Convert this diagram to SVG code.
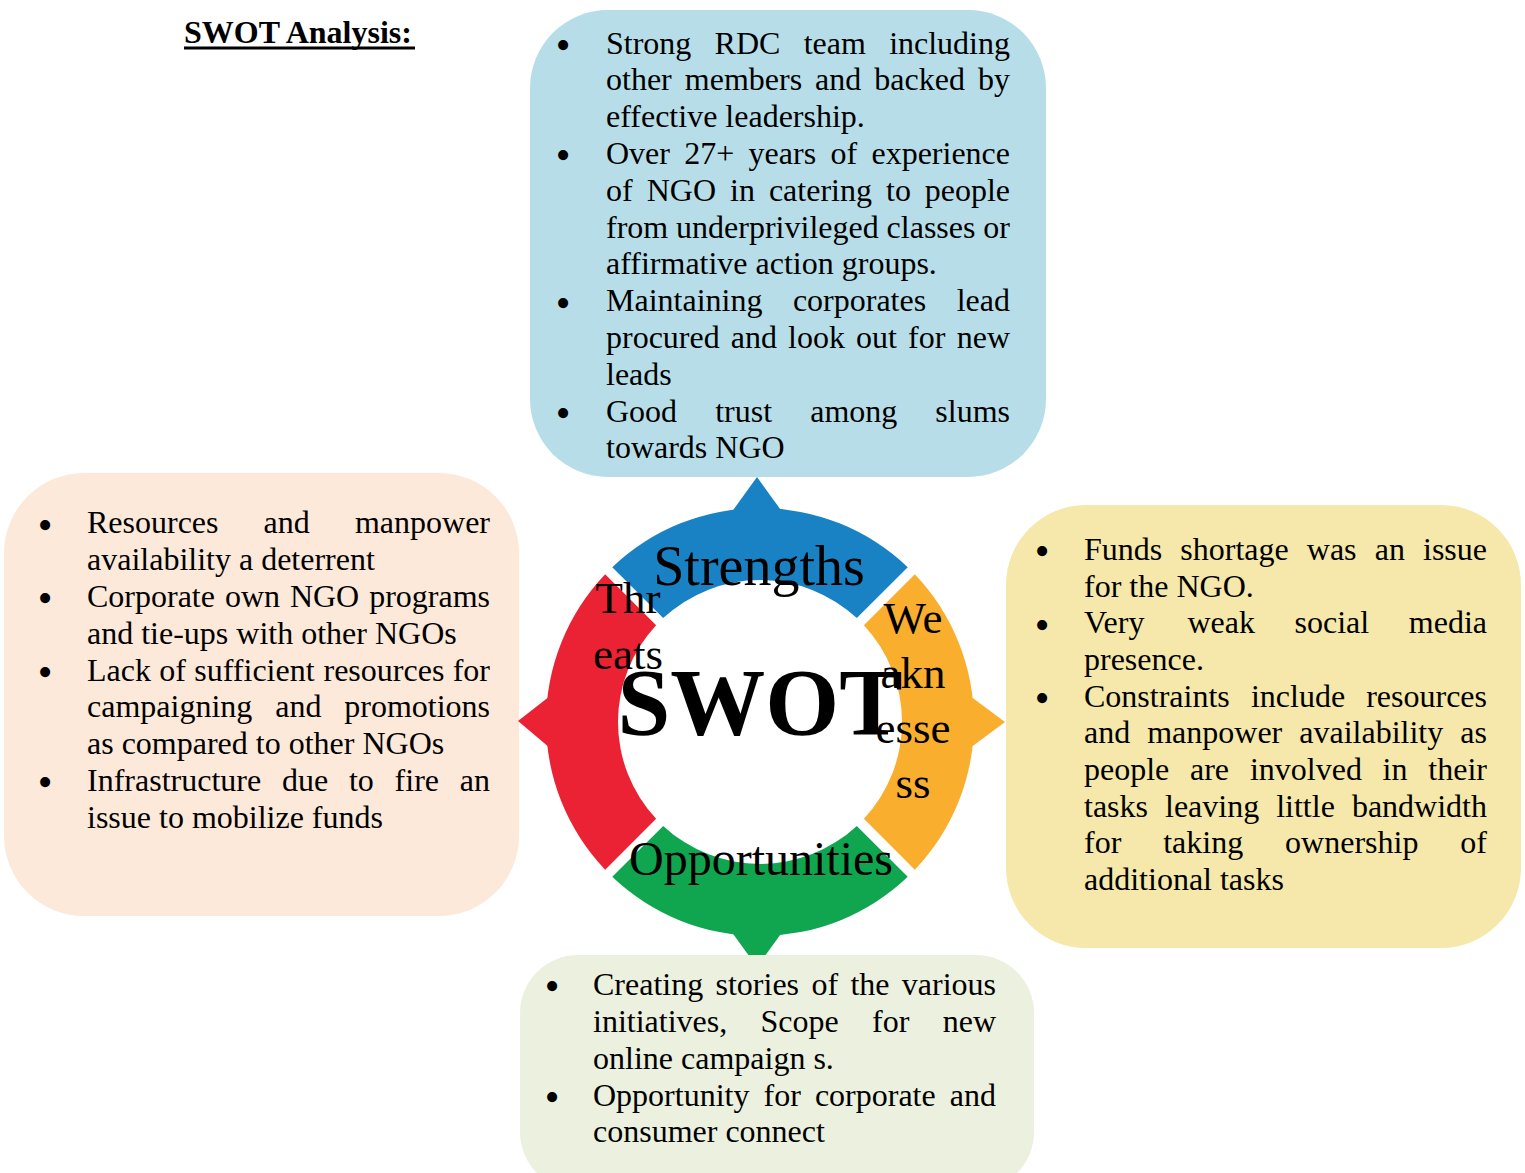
<svg xmlns="http://www.w3.org/2000/svg" width="1525" height="1173" viewBox="0 0 1525 1173">
<style>
text{font-family:"Liberation Serif","Times New Roman",serif;fill:#000}
.b{font-size:32px}
.e{text-anchor:end}
.m{font-size:42px;text-anchor:middle}
.seg{font-size:45px;text-anchor:middle}
</style>
<rect width="1525" height="1173" fill="#fff"/>
<g id="title">
<text x="184" y="43" style="font-size:32px;font-weight:bold">SWOT Analysis:</text>
<rect x="184" y="46.5" width="231" height="3" fill="#000"/>
</g>
<g id="strengths-box">
<rect x="530" y="10" width="516" height="467" rx="78" ry="78" fill="#b7dee8"/>
<text class="m" x="563" y="58.9">•</text>
<text class="m" x="563" y="169.3">•</text>
<text class="m" x="563" y="316.5">•</text>
<text class="m" x="563" y="426.9">•</text>
<text class="b" y="53.5"><tspan x="606">Strong</tspan><tspan x="714.6">RDC</tspan><tspan x="803.7">team</tspan><tspan class="e" x="1010">including</tspan></text>
<text class="b" y="90.3"><tspan x="606">other</tspan><tspan x="684.8">members</tspan><tspan x="815.1">and</tspan><tspan x="874.3">backed</tspan><tspan class="e" x="1010">by</tspan></text>
<text class="b" x="606" y="127.1">effective leadership.</text>
<text class="b" y="163.9"><tspan x="606">Over</tspan><tspan x="684.3">27+</tspan><tspan x="748.6">years</tspan><tspan x="830.4">of</tspan><tspan class="e" x="1010">experience</tspan></text>
<text class="b" y="200.7"><tspan x="606">of</tspan><tspan x="646.7">NGO</tspan><tspan x="730">in</tspan><tspan x="768.9">catering</tspan><tspan x="886">to</tspan><tspan class="e" x="1010">people</tspan></text>
<text class="b" y="237.5"><tspan x="606">from</tspan><tspan x="676.1">underprivileged</tspan><tspan x="886.6">classes</tspan><tspan class="e" x="1010">or</tspan></text>
<text class="b" x="606" y="274.3">affirmative action groups.</text>
<text class="b" y="311.1"><tspan x="606">Maintaining</tspan><tspan x="792.9">corporates</tspan><tspan class="e" x="1010">lead</tspan></text>
<text class="b" y="347.9"><tspan x="606">procured</tspan><tspan x="730.8">and</tspan><tspan x="788.1">look</tspan><tspan x="856.1">out</tspan><tspan x="908.1">for</tspan><tspan class="e" x="1010">new</tspan></text>
<text class="b" x="606" y="384.7">leads</text>
<text class="b" y="421.5"><tspan x="606">Good</tspan><tspan x="715.2">trust</tspan><tspan x="810.2">among</tspan><tspan class="e" x="1010">slums</tspan></text>
<text class="b" x="606" y="458.3">towards NGO</text>
</g>
<g id="threats-box">
<rect x="4" y="473" width="515" height="443" rx="80" ry="80" fill="#fde9d9"/>
<text class="m" x="45" y="538.7">•</text>
<text class="m" x="45" y="612.3">•</text>
<text class="m" x="45" y="685.9">•</text>
<text class="m" x="45" y="796.3">•</text>
<text class="b" y="533.3"><tspan x="87">Resources</tspan><tspan x="263.6">and</tspan><tspan class="e" x="490">manpower</tspan></text>
<text class="b" x="87" y="570.1">availability a deterrent</text>
<text class="b" y="606.9"><tspan x="87">Corporate</tspan><tspan x="224.9">own</tspan><tspan x="289.9">NGO</tspan><tspan class="e" x="490">programs</tspan></text>
<text class="b" x="87" y="643.7">and tie-ups with other NGOs</text>
<text class="b" y="680.5"><tspan x="87">Lack</tspan><tspan x="159.3">of</tspan><tspan x="194.3">sufficient</tspan><tspan x="323.5">resources</tspan><tspan class="e" x="490">for</tspan></text>
<text class="b" y="717.3"><tspan x="87">campaigning</tspan><tspan x="275.2">and</tspan><tspan class="e" x="490">promotions</tspan></text>
<text class="b" x="87" y="754.1">as compared to other NGOs</text>
<text class="b" y="790.9"><tspan x="87">Infrastructure</tspan><tspan x="281.9">due</tspan><tspan x="348.9">to</tspan><tspan x="394.6">fire</tspan><tspan class="e" x="490">an</tspan></text>
<text class="b" x="87" y="827.7">issue to mobilize funds</text>
</g>
<g id="weaknesses-box">
<rect x="1006" y="505" width="515" height="443" rx="80" ry="80" fill="#f5e8aa"/>
<text class="m" x="1042" y="565.4">•</text>
<text class="m" x="1042" y="638.7">•</text>
<text class="m" x="1042" y="712.1">•</text>
<text class="b" y="560"><tspan x="1084">Funds</tspan><tspan x="1180.3">shortage</tspan><tspan x="1306.8">was</tspan><tspan x="1374.7">an</tspan><tspan class="e" x="1487">issue</tspan></text>
<text class="b" x="1084" y="596.7">for the NGO.</text>
<text class="b" y="633.3"><tspan x="1084">Very</tspan><tspan x="1187.5">weak</tspan><tspan x="1294.5">social</tspan><tspan class="e" x="1487">media</tspan></text>
<text class="b" x="1084" y="670">presence.</text>
<text class="b" y="706.7"><tspan x="1084">Constraints</tspan><tspan x="1250.9">include</tspan><tspan class="e" x="1487">resources</tspan></text>
<text class="b" y="743.3"><tspan x="1084">and</tspan><tspan x="1147.2">manpower</tspan><tspan x="1299.3">availability</tspan><tspan class="e" x="1487">as</tspan></text>
<text class="b" y="780"><tspan x="1084">people</tspan><tspan x="1190">are</tspan><tspan x="1249.9">involved</tspan><tspan x="1382.6">in</tspan><tspan class="e" x="1487">their</tspan></text>
<text class="b" y="816.7"><tspan x="1084">tasks</tspan><tspan x="1165">leaving</tspan><tspan x="1276.2">little</tspan><tspan class="e" x="1487">bandwidth</tspan></text>
<text class="b" y="853.3"><tspan x="1084">for</tspan><tspan x="1163.2">taking</tspan><tspan x="1285.1">ownership</tspan><tspan class="e" x="1487">of</tspan></text>
<text class="b" x="1084" y="890">additional tasks</text>
</g>
<g id="swot-ring">
<g id="seg-strengths">
<path d="M612.26 567.19 A214 214 0 0 1 907.74 567.19 L856.81 618.12 A142 142 0 0 0 663.19 618.12 Z" fill="#1982c4"/>
<polygon points="731,513 757,477 783,513" fill="#1982c4"/>
<text x="759" y="585" style="font-size:56px;text-anchor:middle">Strengths</text>
</g>
<g id="seg-weaknesses">
<path d="M914.81 574.26 A214 214 0 0 1 914.81 869.74 L863.88 818.81 A142 142 0 0 0 863.88 625.19 Z" fill="#f9ae2e"/>
<polygon points="970,696 1005,722 970,748" fill="#f9ae2e"/>
<text class="seg" x="913" y="633">We</text>
<text class="seg" x="913" y="688">akn</text>
<text class="seg" x="913" y="743">esse</text>
<text class="seg" x="913" y="798">ss</text>
</g>
<g id="seg-opportunities">
<path d="M907.74 876.81 A214 214 0 0 1 612.26 876.81 L663.19 825.88 A142 142 0 0 0 856.81 825.88 Z" fill="#10a650"/>
<polygon points="731,931 757,967 783,931" fill="#10a650"/>
<text x="761" y="875" style="font-size:48px;text-anchor:middle">Opportunities</text>
</g>
<g id="seg-threats">
<path d="M605.19 869.74 A214 214 0 0 1 605.19 574.26 L656.12 625.19 A142 142 0 0 0 656.12 818.81 Z" fill="#eb2234"/>
<polygon points="550,696 518,721 550,748" fill="#eb2234"/>
<text class="seg" x="628" y="613">Thr</text>
<text class="seg" x="628" y="669">eats</text>
</g>
<text id="swot-center" x="760" y="735" style="font-size:95px;font-weight:bold;text-anchor:middle">SWOT</text>
</g>
<g id="opportunities-box">
<rect x="520" y="955" width="514" height="235" rx="58" ry="58" fill="#ebf1de"/>
<text class="m" x="552" y="1000.4">•</text>
<text class="m" x="552" y="1111.1">•</text>
<text class="b" y="995"><tspan x="593">Creating</tspan><tspan x="715.5">stories</tspan><tspan x="811.4">of</tspan><tspan x="850.4">the</tspan><tspan class="e" x="996">various</tspan></text>
<text class="b" y="1032"><tspan x="593">initiatives,</tspan><tspan x="760.5">Scope</tspan><tspan x="872">for</tspan><tspan class="e" x="996">new</tspan></text>
<text class="b" x="593" y="1069">online campaign s.</text>
<text class="b" y="1105.7"><tspan x="593">Opportunity</tspan><tspan x="763.5">for</tspan><tspan x="814.9">corporate</tspan><tspan class="e" x="996">and</tspan></text>
<text class="b" x="593" y="1142">consumer connect</text>
</g>
</svg>
